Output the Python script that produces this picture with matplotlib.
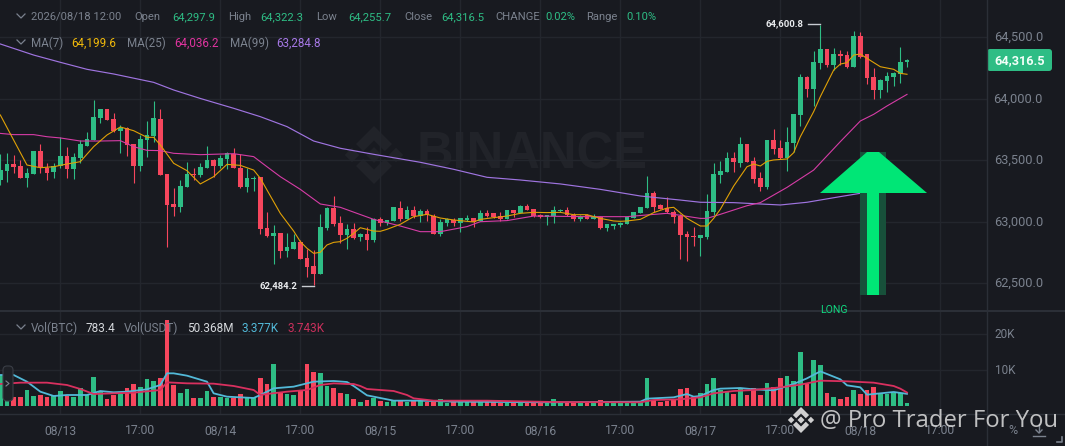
import matplotlib
matplotlib.use("Agg")
import matplotlib.pyplot as plt
from matplotlib.patches import Polygon, FancyBboxPatch, Rectangle
import numpy as np

# ---------- data (1h candles) ----------
opens = [63340,63416,63467,63454,63359,63392,63576,63440,63402,63454,63535,63427,63522,63619,63665,63841,63917,63836,63741,63760,
         63630,63457,63668,63695,63836,63389,63142,63118,63280,63389,63378,63440,63500,63454,63511,63549,63440,63283,63346,63362,
         62947,62885,62909,62760,62782,62833,62709,62641,62576,62950,63110,62988,62890,62942,62874,62901,62850,63020,62988,63007,
         63115,63026,63096,63050,63091,63045,62904,62993,63015,62993,63015,63031,63010,63069,63069,63047,63023,63096,63069,63129,
         63102,63053,63042,63050,63085,63099,63058,63026,63053,63026,63037,62950,62969,62972,62982,63034,63075,63110,63234,63134,
         63110,63083,63050,62901,62887,62871,62874,63077,63381,63405,63516,63481,63635,63495,63354,63283,63665,63603,63519,63644,
         63869,64175,64080,64289,64405,64275,64364,64354,64261,64511,64362,64177,64072,64142,64177,64202,64297.9]
closes = [63421,63467,63448,63354,63400,63576,63448,63400,63457,63535,63427,63527,63630,63673,63850,63917,63828,63741,63766,63627,
          63457,63673,63706,63841,63383,63134,63118,63289,63389,63378,63446,63500,63457,63519,63557,63435,63283,63354,63356,62942,
          62885,62906,62763,62793,62839,62700,62635,62576,62958,63110,62980,62893,62942,62871,62901,62852,63020,62988,63015,63118,
          63023,63096,63047,63088,63053,62904,63001,63020,62990,63028,63034,62996,63072,63050,63037,63023,63096,63072,63126,63096,
          63047,63042,63053,63096,63099,63056,63026,63039,63026,63045,62953,62982,62982,62988,63037,63080,63118,63234,63121,63104,
          63077,63037,62893,62879,62874,62893,63088,63386,63413,63516,63484,63635,63489,63346,63283,63668,63592,63519,63649,63877,
          64175,64080,64297,64405,64272,64364,64348,64256,64511,64337,64172,64072,64150,64188,64207,64299,64316.5]
highs = [63551,63557,63543,63503,63435,63576,63630,63476,63476,63692,63611,63557,63665,63733,63990,63917,63917,63882,63787,63774,
         63630,63706,63822,63980,63917,63389,63272,63340,63484,63440,63476,63617,63508,63543,63570,63598,63552,63440,63373,63362,
         63080,62974,62909,62906,62898,62852,62776,62771,63061,63123,63213,63047,62982,62993,62906,62961,63034,63037,63015,63118,
         63169,63129,63129,63104,63104,63061,63020,63028,63028,63028,63053,63034,63096,63093,63075,63083,63096,63096,63137,63142,
         63107,63061,63056,63129,63104,63118,63069,63058,63061,63061,63047,62982,62982,63001,63037,63080,63118,63373,63248,63145,
         63199,63096,63061,62928,62961,62893,63226,63481,63497,63565,63570,63692,63635,63524,63402,63668,63752,63665,63774,63877,
         64199,64186,64389,64600.8,64405,64411,64397,64389,64554,64541,64362,64248,64159,64215,64221,64424,64322.3]
lows = [63299,63327,63394,63354,63286,63392,63394,63340,63354,63435,63354,63346,63476,63619,63665,63801,63828,63733,63562,63538,
        63318,63416,63530,63652,63383,62798,63047,63083,63280,63340,63367,63440,63367,63435,63430,63435,63278,63243,63253,62898,
        62879,62657,62709,62717,62779,62695,62554,62484.2,62576,62934,62966,62825,62779,62863,62847,62771,62839,62966,62974,63007,
        63010,63020,63028,63001,63010,62904,62888,62969,62969,62920,63004,62961,63007,63037,63031,63010,63020,63042,63069,63096,
        63042,63034,62974,62988,63083,63050,63007,63007,63023,63023,62939,62925,62945,62958,62980,63034,63072,63110,63083,63102,
        63075,62988,62698,62682,62804,62722,62863,63056,63313,63405,63408,63448,63489,63318,63253,63264,63552,63513,63413,63570,
        63779,64018,63942,64242,64256,64234,64275,64248,64261,64329,64118,64001,64004,64056,64104,64131,64255.7]

ma7_idx = [0,2,4,6,8,10,12,14,16,18,20,22,23,24,26,28,30,32,34,36,38,39,40,42,44,45,46,47,48,49,50,51,52,53,54,56,57,58,60,62,
           64,66,68,70,71,72,74,76,78,80,82,84,86,88,90,92,93,94,96,97,98,100,101,103,105,106,107,108,110,112,113,114,115,116,
           118,119,120,122,123,124,125,126,127,128,129,130,132,134,135,136]
ma7_val = [63869,63665,63462,63440,63448,63470,63489,63611,63706,63771,63741,63687,63687,63625,63476,63416,63308,63367,63467,
           63459,63421,63354,63259,63069,62925,62839,62785,62744,62752,62812,62833,62839,62866,62906,62952,62925,62923,62939,62980,
           63042,63061,63031,63015,63004,62999,63020,63034,63047,63069,63077,63075,63077,63058,63058,63028,63007,63004,63007,63020,
           63047,63075,63112,63118,63028,62966,62966,63028,63102,63291,63448,63470,63454,63492,63503,63511,63562,63692,63896,64018,
           64126,64234,64283,64294,64356,64364,64329,64261,64240,64207,64199.6]
ma25_idx = [0,2,5,7,9,12,15,18,20,22,24,26,30,35,38,40,42,45,48,51,56,60,63,66,70,72,76,80,88,94,97,100,105,106,108,112,114,118,
            122,126,129,131,133,136]
ma25_val = [63719,63709,63709,63692,63682,63657,63657,63660,63611,63581,63579,63557,63546,63554,63530,63448,63367,63264,63145,63118,
            63020,62966,62920,62920,62961,63001,63010,63047,63042,63042,63056,63069,63028,63028,63061,63131,63156,63280,63421,63652,
            63820,63874,63942,64036.2]
ma99_idx = [0,5,9,13,17,23,26,30,35,39,43,47,51,56,63,68,73,78,84,90,96,102,105,110,117,121,126,129,136]
ma99_val = [64446,64356,64297,64240,64202,64134,64072,64003,63923,63855,63774,63657,63598,63549,63484,63427,63362,63340,63308,63264,
            63210,63177,63159,63156,63137,63159,63205,63232,63284.8]

volumes = [8612,2315,2407,2407,4445,2778,3056,2407,2870,4167,2778,2593,4908,2963,7963,4259,2037,3056,3334,4908,
           6112,5371,7500,6945,7686,23900,5834,3519,4723,2130,2222,4167,2593,2407,2315,2222,3334,2130,2315,7686,
           6112,11575,3704,3334,3149,4445,11575,9353,9167,5649,4908,3519,3334,1945,1112,1760,2223,1297,1112,1390,
           1482,1204,1297,1390,1112,1482,1852,926,1019,1112,1112,1112,1204,1019,1112,926,926,834,834,834,
           926,834,834,1852,1019,926,834,926,1019,834,1575,834,834,834,926,1019,1204,7778,1667,1204,
           1482,1667,4630,5000,2408,3519,6112,7778,4445,4167,3334,4908,3149,5093,3149,6390,5278,7686,8334,6945,
           14908,6112,12778,11390,3704,2593,1945,2593,4445,3334,4445,5278,3704,3241,3704,3704,783.4]

volma_a_idx = [0,2,4,6,8,10,13,15,17,19,22,24,25,26,28,31,32,34,38,39,41,44,47,50,52,53,55,58,59,63,68,83,96,97,101,103,104,105,
               107,108,111,113,116,119,121,123,126,127,129,130,134,136]
volma_a_val = [8612,8612,6760,3982,2778,3056,3056,4167,3797,3982,4630,5834,9075,9075,8427,6760,3519,2593,2222,3056,4908,5371,6760,
               6945,6667,5556,2963,1852,1482,1482,1204,1019,1204,2037,2408,3334,2593,2778,4445,4815,5000,4630,4352,6112,7686,9630,
               7408,5741,5186,3148,3889,3377]
volma_b_idx = [0,3,7,10,12,14,17,20,24,25,28,32,35,38,39,40,43,46,48,50,52,53,54,55,59,61,62,65,73,83,96,98,102,105,107,110,113,
               117,120,123,127,131,134,135,136]
volma_b_val = [6112,6482,6482,5834,4723,3334,3519,3704,4445,6575,6297,6204,5556,4445,3056,3334,3982,4445,5834,6297,6112,6112,5556,
               4723,4167,3056,2130,1482,1482,1111,1019,1667,1852,2408,3519,4167,4445,5186,5926,7038,6852,6482,5556,4815,3743]

price_ticks = [62500, 63000, 63500, 64000, 64500]
vol_ticks = [10000, 20000]
vol_tick_labels = ["10K", "20K"]
time_idx = [9, 21, 33, 45, 57, 69, 81, 93, 105, 117, 129, 141]
time_labels = ["08/13", "17:00", "08/14", "17:00", "08/15", "17:00", "08/16", "17:00", "08/17", "17:00", "08/18", "17:00"]

# ---------- style ----------
W, H = 1065, 446
BG = "#181a20"
GRID = "#23262d"
SEP = "#2b2f37"
GREEN = "#2ebd85"
RED = "#f6465d"
GREY = "#7b828e"
FONT = ["Roboto", "DejaVu Sans"]
plt.rcParams["font.family"] = FONT

fig = plt.figure(figsize=(W / 100, H / 100), dpi=100, facecolor=BG)


def px_axes(x0, y0, x1, y1, z):
    ax = fig.add_axes([x0 / W, 1 - y1 / H, (x1 - x0) / W, (y1 - y0) / H], zorder=z)
    ax.patch.set_alpha(0)
    for s in ax.spines.values():
        s.set_visible(False)
    return ax


# watermark layer
bg = px_axes(0, 0, W, H, 0)
bg.set_xlim(0, W)
bg.set_ylim(H, 0)
bg.axis("off")


def logo(ax, cx, cy, r, color, alpha=1.0, z=1):
    shapes = [
        [(0, -0.27), (0.27, 0), (0, 0.27), (-0.27, 0)],
        [(-0.76, -0.25), (-0.51, 0), (-0.76, 0.25), (-1.01, 0)],
        [(0.76, -0.25), (1.01, 0), (0.76, 0.25), (0.51, 0)],
        [(0, -1), (0.62, -0.38), (0.37, -0.13), (0, -0.5), (-0.37, -0.13), (-0.62, -0.38)],
        [(0, 1), (0.62, 0.38), (0.37, 0.13), (0, 0.5), (-0.37, 0.13), (-0.62, 0.38)],
    ]
    for s in shapes:
        ax.add_patch(Polygon([(cx + r * a, cy + r * b) for a, b in s], closed=True, fc=color, ec="none", alpha=alpha, zorder=z))


logo(bg, 374, 155, 29, "#212329")
bg.text(417, 155, "BINANCE", color="#212329", fontsize=36.5, fontweight="bold", va="center", ha="left",
        family=["Liberation Sans", "DejaVu Sans"])

# ---------- price panel ----------
ax = px_axes(0, 0, 987, 311, 1)
x_per = 6.667
xlim = (-0.3 / x_per, (987 - 0.3) / x_per)
ax.set_xlim(*xlim)
ax.set_ylim(62275, 64803.5)
ax.set_yticks(price_ticks)
ax.set_xticks(time_idx)
ax.grid(True, color=GRID, lw=1)
ax.set_axisbelow(True)
ax.tick_params(length=0, labelbottom=False, labelleft=False)

x = np.arange(len(opens))
o, c, h, l = map(np.array, (opens, closes, highs, lows))
colors = [GREEN if cc >= oo else RED for oo, cc in zip(o, c)]
ax.vlines(x, l, h, colors=colors, lw=0.8, zorder=2)
ax.bar(x, np.maximum(np.abs(c - o), 9), bottom=np.minimum(o, c), width=0.7, color=colors, zorder=3)
ax.plot(ma99_idx, ma99_val, color="#9f74e0", lw=0.85, zorder=4)
ax.plot(ma25_idx, ma25_val, color="#d63ca6", lw=0.8, zorder=5)
ax.plot(ma7_idx, ma7_val, color="#e0a106", lw=0.8, zorder=6)

# ---------- volume panel ----------
vx = px_axes(0, 312, 987, 414, 1)
vx.set_xlim(*xlim)
vx.set_ylim(-2222, 26111)
vx.set_yticks(vol_ticks)
vx.set_xticks(time_idx)
vx.grid(True, color=GRID, lw=1)
vx.set_axisbelow(True)
vx.tick_params(length=0, labelbottom=False, labelleft=False)
vx.bar(x, volumes, width=0.7, color=colors, zorder=2)
vx.plot(volma_a_idx, volma_a_val, color="#52b9d8", lw=1.3, zorder=3)
vx.plot(volma_b_idx, volma_b_val, color="#d9305f", lw=1.3, zorder=4)

# ---------- overlay: text, arrow, separators ----------
ov = px_axes(0, 0, W, H, 5)
ov.set_xlim(0, W)
ov.set_ylim(H, 0)
ov.axis("off")

ov.plot([0, W], [311, 311], color=SEP, lw=1.5)
ov.plot([0, W], [414, 414], color=SEP, lw=1.0)
ov.plot([987, 987], [0, H], color=SEP, lw=1.0)


def t(xp, yp, s, color=GREY, size=8.3, **kw):
    kw.setdefault("va", "center")
    kw.setdefault("ha", "left")
    ov.text(xp, yp, s, color=color, fontsize=size, **kw)


def chevron(xp, yp):
    ov.plot([xp - 4, xp, xp + 4], [yp - 2, yp + 2, yp - 2], color=GREY, lw=0.9)


row1 = [(31, "2026/08/18 12:00", GREY), (134, "Open", GREY), (172, "64,297.9", GREEN), (228, "High", GREY), (260, "64,322.3", GREEN),
        (316, "Low", GREY), (348, "64,255.7", GREEN), (404, "Close", GREY), (441, "64,316.5", GREEN), (495, "CHANGE", GREY),
        (545, "0.02%", GREEN), (586, "Range", GREY), (626, "0.10%", GREEN)]
for xp, s, col in row1:
    t(xp, 17, s, col, 8.1)
chevron(21, 16)
row2 = [(31, "MA(7)", GREY), (71, "64,199.6", "#f0b90b"), (127, "MA(25)", GREY), (174, "64,036.2", "#e0349f"),
        (230, "MA(99)", GREY), (276, "63,284.8", "#a678e6")]
for xp, s, col in row2:
    t(xp, 43, s, col, 8.4)
chevron(21, 42)
row3 = [(31, "Vol(BTC)", GREY), (86, "783.4", "#d5d8dc"), (124, "Vol(USDT)", GREY), (187, "50.368M", "#d5d8dc"),
        (242, "3.377K", "#52b9d8"), (288, "3.743K", "#c9305c")]
for xp, s, col in row3:
    t(xp, 328, s, col, 8.5)
chevron(21, 327)

for p in price_ticks:
    ypx = (64803.5 - p) / 2.71 / 3
    t(1043, ypx, f"{p:,.1f}", GREY, 9.2, ha="right")
for v, s in zip(vol_ticks, vol_tick_labels):
    t(1015, 406 - v / 277.8, s, GREY, 8.5, ha="right")
for i, s in zip(time_idx, time_labels):
    t(0.3 + x_per * i, 431, s, GREY, 8.7, ha="center")

# current price badge
ov.add_patch(FancyBboxPatch((987, 49), 65, 22, boxstyle="round,pad=0,rounding_size=3", fc=GREEN, ec="none"))
t(1020, 60.5, "64,316.5", "#f2fff9", 9.2, ha="center", fontweight="bold")

# extremes
t(766, 24, "64,600.8", "#eaecef", 6.8, fontweight="bold")
ov.plot([808, 820], [24, 24], color="#c8ccd2", lw=1)
t(259, 285.5, "62,484.2", "#eaecef", 6.8, fontweight="bold")
ov.plot([302, 314], [286, 286], color="#c8ccd2", lw=1)

# arrow
ov.add_patch(Rectangle((860, 152), 26, 143, fc="#17503a", ec="none", zorder=2))
ov.add_patch(Rectangle((867, 193), 12, 102, fc="#00e676", ec="none", zorder=3))
ov.add_patch(Polygon([(820, 193), (867, 152), (879, 152), (927, 193)], closed=True, fc="#00e676", ec="none", zorder=3))
t(834, 310, "LONG", "#10d880", 7.6, ha="center", zorder=4)

# pane handle
ov.add_patch(FancyBboxPatch((3, 366), 10, 35, boxstyle="round,pad=0,rounding_size=4", fc="#1e2026", ec="#3a3e46", lw=0.8))
ov.plot([6, 9, 6], [381, 383.5, 386], color=GREY, lw=0.8)

# bottom right
t(1013, 431, "%", GREY, 9, ha="center")
ov.plot([1033, 1045], [436, 436], color=GREY, lw=1)
ov.plot([1039, 1039], [424, 432], color=GREY, lw=1)
ov.plot([1036, 1039, 1042], [430, 433, 430], color=GREY, lw=1)
ov.plot([1057, 1062, 1062], [442, 442, 437], color=GREY, lw=1.2)

# attribution
logo(ov, 801, 420, 13, "#e4e4e4", alpha=0.9, z=6)
ov.text(820, 421, "@ Pro Trader For You", color="#dedede", alpha=0.85, fontsize=17.2, va="center", ha="left",
        family=["Open Sans", "DejaVu Sans"], zorder=6)

fig.savefig("out.png", dpi=100, facecolor=BG)
